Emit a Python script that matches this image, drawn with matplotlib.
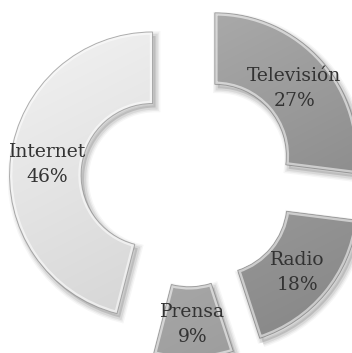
import numpy as np
import matplotlib
matplotlib.use("Agg")
import matplotlib.pyplot as plt
from matplotlib.patches import Wedge
from matplotlib.colors import to_rgb

# Media share data
labels = ["Televisión", "Radio", "Prensa", "Internet"]
values = [27, 18, 9, 46]

# Shading for each ring segment (light edge -> dark edge)
colors_light = ["#ababab", "#a9a9a9", "#b8b8b8", "#eeeeee"]
colors_dark = ["#868686", "#8a8a8a", "#9e9e9e", "#d4d4d4"]

fig = plt.figure(figsize=(3.52, 3.53), dpi=100)
ax = fig.add_axes([0, 0, 1, 1])

wedges, _ = ax.pie(
    values,
    explode=[0.25] * len(values),
    startangle=90,
    counterclock=False,
    radius=1.0,
    wedgeprops=dict(width=0.5, linewidth=0),
)
ax.set_xlim(-1.315, 1.147)
ax.set_ylim(-1.213, 1.255)
ax.set_aspect("auto")
ax.axis("off")

px = 1.0 / 143.0  # one pixel in data units
for w, c1, c2, lab, val in zip(wedges, colors_light, colors_dark, labels, values):
    cx, cy = w.center
    r = w.r
    t1, t2 = w.theta1, w.theta2

    # soft drop shadow
    for k, a in [(7, 0.035), (5, 0.05), (3, 0.07)]:
        sh = Wedge((cx + 3 * px, cy - 4 * px), r, t1, t2, width=w.width,
                   facecolor="none", edgecolor=(0, 0, 0, a), linewidth=k,
                   zorder=0.5)
        ax.add_patch(sh)
    sh = Wedge((cx + 3 * px, cy - 4 * px), r, t1, t2, width=w.width,
               facecolor=(0, 0, 0, 0.12), edgecolor="none", zorder=0.6)
    ax.add_patch(sh)

    # diagonal gradient fill clipped to the wedge
    n = 200
    xs = np.linspace(-1, 1, n)
    X, Y = np.meshgrid(xs, xs)
    tgrad = np.clip((0.45 * X - 0.9 * Y + 1.0) / 2.0, 0, 1)
    a1, a2 = np.array(to_rgb(c1)), np.array(to_rgb(c2))
    img = a1[None, None, :] * (1 - tgrad[..., None]) + a2[None, None, :] * tgrad[..., None]
    im = ax.imshow(img, extent=(cx - r, cx + r, cy - r, cy + r), origin="lower",
                   zorder=1, interpolation="bilinear", aspect="auto")
    w.set_facecolor("none")
    w.set_zorder(2)
    im.set_clip_path(w)

    # bevel: light rim inside, darker outline
    hl = Wedge((cx, cy), r, t1, t2, width=w.width, facecolor="none",
               edgecolor=(1, 1, 1, 0.55), linewidth=4, zorder=2.5)
    ax.add_patch(hl)
    hl.set_clip_path(w)
    ol = Wedge((cx, cy), r, t1, t2, width=w.width, facecolor="none",
               edgecolor=(0.4, 0.4, 0.4, 0.5), linewidth=0.7, zorder=2.6)
    ax.add_patch(ol)

    # label at the middle of the segment
    tm = np.deg2rad((t1 + t2) / 2)
    d = 0.74 * r
    ax.text(cx + d * np.cos(tm), cy + d * np.sin(tm) - 3 * px, f"{lab}\n{val}%",
            ha="center", va="center", fontsize=13.5, family="DejaVu Serif",
            color="#333333", linespacing=1.5, zorder=5)

fig.savefig("out.png", dpi=100)
